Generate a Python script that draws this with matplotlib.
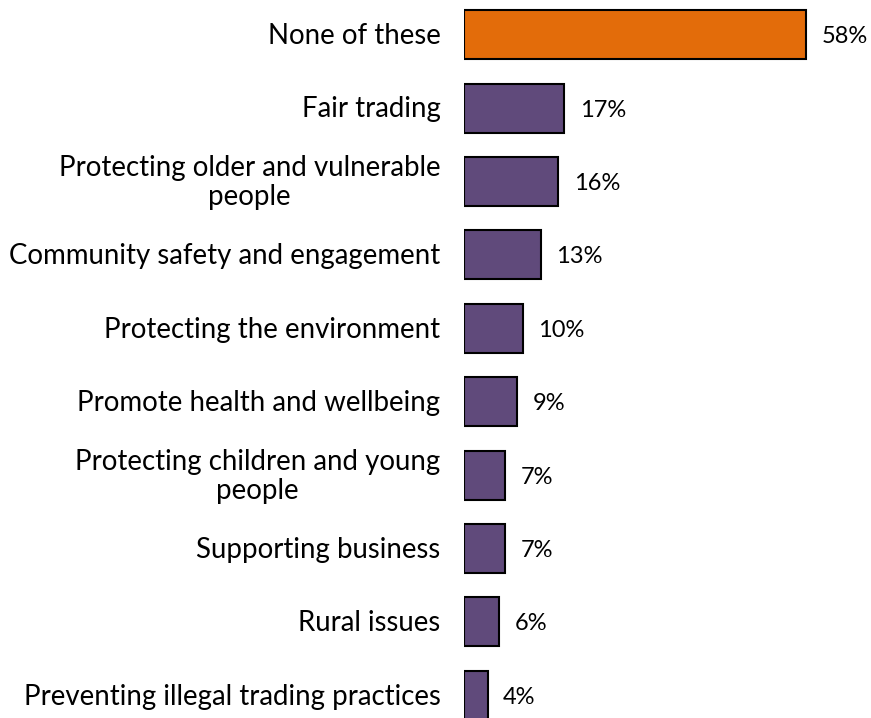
import matplotlib
matplotlib.use("Agg")
import matplotlib.pyplot as plt

# Survey responses, top to bottom
categories = [
    "None of these",
    "Fair trading",
    "Protecting older and vulnerable\npeople",
    "Community safety and engagement",
    "Protecting the environment",
    "Promote health and wellbeing",
    "Protecting children and young\npeople",
    "Supporting business",
    "Rural issues",
    "Preventing illegal trading practices",
]
values = [58, 17, 16, 13, 10, 9, 7, 7, 6, 4]
colors = ["#E36C0A"] + ["#604A7B"] * 9

plt.rcParams["font.family"] = ["Lato", "DejaVu Sans"]

W, H = 871, 718
fig = plt.figure(figsize=(W / 100, H / 100), dpi=100)
# axes placed in pixel terms: bars start at x=464, rows 73.4 px apart
ax = fig.add_axes([464 / W, (718 - 732) / H, 407 / W, 734 / H])

y = list(range(len(values)))
ax.barh(y, values, height=0.67, color=colors, edgecolor="black", linewidth=1.5)
ax.set_xlim(0, 407 / 5.9)
ax.set_ylim(len(values) - 0.5, -0.5)

for yi, v, cat in zip(y, values, categories):
    ax.annotate(f"{v}%", (v, yi), xytext=(11, -1.5), textcoords="offset points",
                ha="left", va="center", fontsize=17)
    ax.annotate(cat, (0, yi), xytext=(-17, -1), textcoords="offset points",
                ha="right", va="center", multialignment="center",
                fontsize=19.9, linespacing=1.15)

ax.axis("off")
fig.savefig("out.png", dpi=100)
